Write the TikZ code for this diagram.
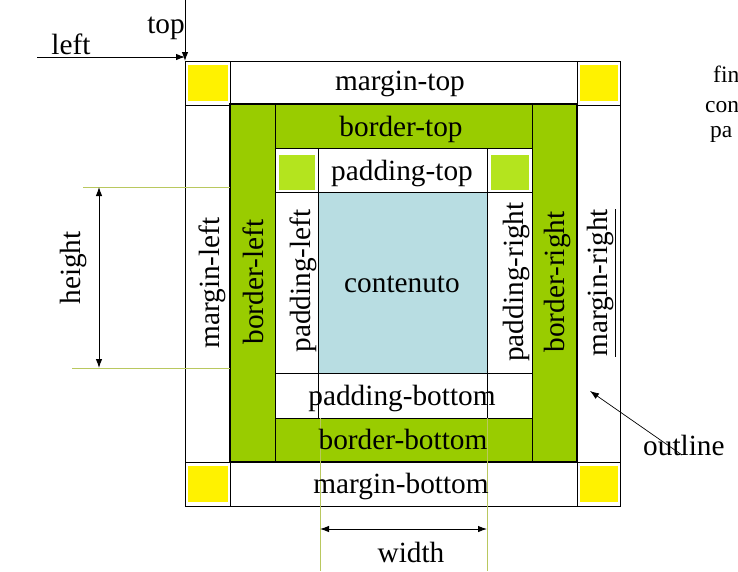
\documentclass[tikz,border=0pt]{standalone}
\usepackage{fontspec}
\setmainfont{Liberation Serif}
\usetikzlibrary{arrows.meta}
\definecolor{bordo}{RGB}{153,204,0}
\definecolor{pangolo}{RGB}{180,228,30}
\definecolor{mangolo}{RGB}{255,242,0}
\definecolor{contcol}{RGB}{184,221,226}
\definecolor{guidacol}{RGB}{185,200,95}

\begin{document}
\begin{tikzpicture}[x=1pt,y=-1pt,>={Latex[length=9pt,width=6.5pt]},
    lab/.style={font=\fontsize{29.3}{32}\selectfont,inner sep=0pt},
    vlab/.style={lab,rotate=90},
    side/.style={font=\fontsize{23.5}{26}\selectfont,inner sep=0pt,anchor=base west},
    riga/.style={draw=black,line width=1pt},
    guida/.style={draw=guidacol,line width=0.8pt},
    quota/.style={<->,line width=0.9pt}]
      \useasboundingbox (0,0) rectangle (738,571) ;
      % margin
      \draw[riga] (185,61) rectangle (620,506) ;
      \foreach \xa/\ya/\xb/\yb in {185/61/230/105,577/61/620/105,185/462/230/506,577/462/620/506}{
        \fill[mangolo] (\xa+3,\ya+4) rectangle (\xb-2,\yb-4) ;
        \draw[riga] (\xa,\ya) rectangle (\xb,\yb) ;
      }
      % border
      \draw[riga,fill=bordo,line width=1.3pt] (230,104) rectangle (577,462) ;
      \draw[riga] (275,104) -- (275,462) ;
      \draw[riga] (532,104) -- (532,462) ;
      % padding
      \draw[riga,fill=white] (275,148) rectangle (532,418) ;
      \foreach \xa/\xb in {275/318,487/532}{
        \fill[pangolo] (\xa+4,155) rectangle (\xb-3,190) ;
        \draw[riga] (\xa,148) rectangle (\xb,192) ;
        \draw[riga] (\xa,373) rectangle (\xb,418) ;
      }
      \draw[riga,fill=contcol] (318,192) rectangle (487,373) ;
      % quote
      \coordinate (hG1) at (83,187) ;
      \coordinate (hB1) at (230,187) ;
      \coordinate (hG2) at (72,368) ;
      \coordinate (hB2) at (230,368) ;
      \coordinate (hA1) at (99,187) ;
      \coordinate (hA2) at (99,368) ;
      \draw[guida] (hG1) -- (hB1) ;
      \draw[guida] (hG2) -- (hB2) ;
      \draw[quota] (hA1) -- (hA2) ;
      \coordinate (wG1) at (320,418) ;
      \coordinate (wE1) at (320,571) ;
      \coordinate (wG2) at (487,418) ;
      \coordinate (wE2) at (487,571) ;
      \coordinate (wA1) at (320,529) ;
      \coordinate (wA2) at (487,529) ;
      \draw[guida] (wG1) -- (wE1) ;
      \draw[guida] (wG2) -- (wE2) ;
      \draw[quota] (wA1) -- (wA2) ;
      % top, left
      \coordinate (tS) at (185,0) ;
      \coordinate (tE) at (185,61) ;
      \coordinate (lS) at (37,57) ;
      \coordinate (lE) at (185,57) ;
      \draw[->,line width=0.9pt] (tS) -- (tE) ;
      \draw[->,line width=0.9pt] (lS) -- (lE) ;
      \node[lab,anchor=base] (top) at (166,33) {top} ;
      \node[lab,anchor=base] (left) at (71,54) {left} ;
      % testi
      \node[lab,anchor=base] (mT) at (400,90) {margin-top} ;
      \node[lab,anchor=base] (bT) at (401,136) {border-top} ;
      \node[lab,anchor=base] (pT) at (402,180) {padding-top} ;
      \node[lab,anchor=base] (cont) at (402,292) {contenuto} ;
      \node[lab,anchor=base] (pB) at (402,405) {padding-bottom} ;
      \node[lab,anchor=base] (bB) at (403,449) {border-bottom} ;
      \node[lab,anchor=base] (mB) at (401,493) {margin-bottom} ;
      \node[vlab] (mL) at (212,283) {margin-left} ;
      \node[vlab] (bL) at (253,282) {border-left} ;
      \node[vlab] (pL) at (303,281) {padding-left} ;
      \node[vlab] (pR) at (516,282) {padding-right} ;
      \node[vlab] (bR) at (557,282) {border-right} ;
      \node[vlab] (mR) at (601,283) {\underline{margin-right}} ;
      \node[vlab] (alt) at (73,268) {height} ;
      \node[lab,anchor=base] (larg) at (411,562) {width} ;
      % outline
      \node[lab,anchor=base west] (out) at (643,455) {outline} ;
      \coordinate (oS) at (682,455) ;
      \coordinate (oE) at (590,391) ;
      \draw[->,line width=0.7pt] (oS) -- (oE) ;
      \node[side] (fin) at (713,82) {fin} ;
      \node[side] (con) at (705,112) {con} ;
      \node[side] (pa) at (710,137) {pa} ;
\end{tikzpicture}
\end{document}
